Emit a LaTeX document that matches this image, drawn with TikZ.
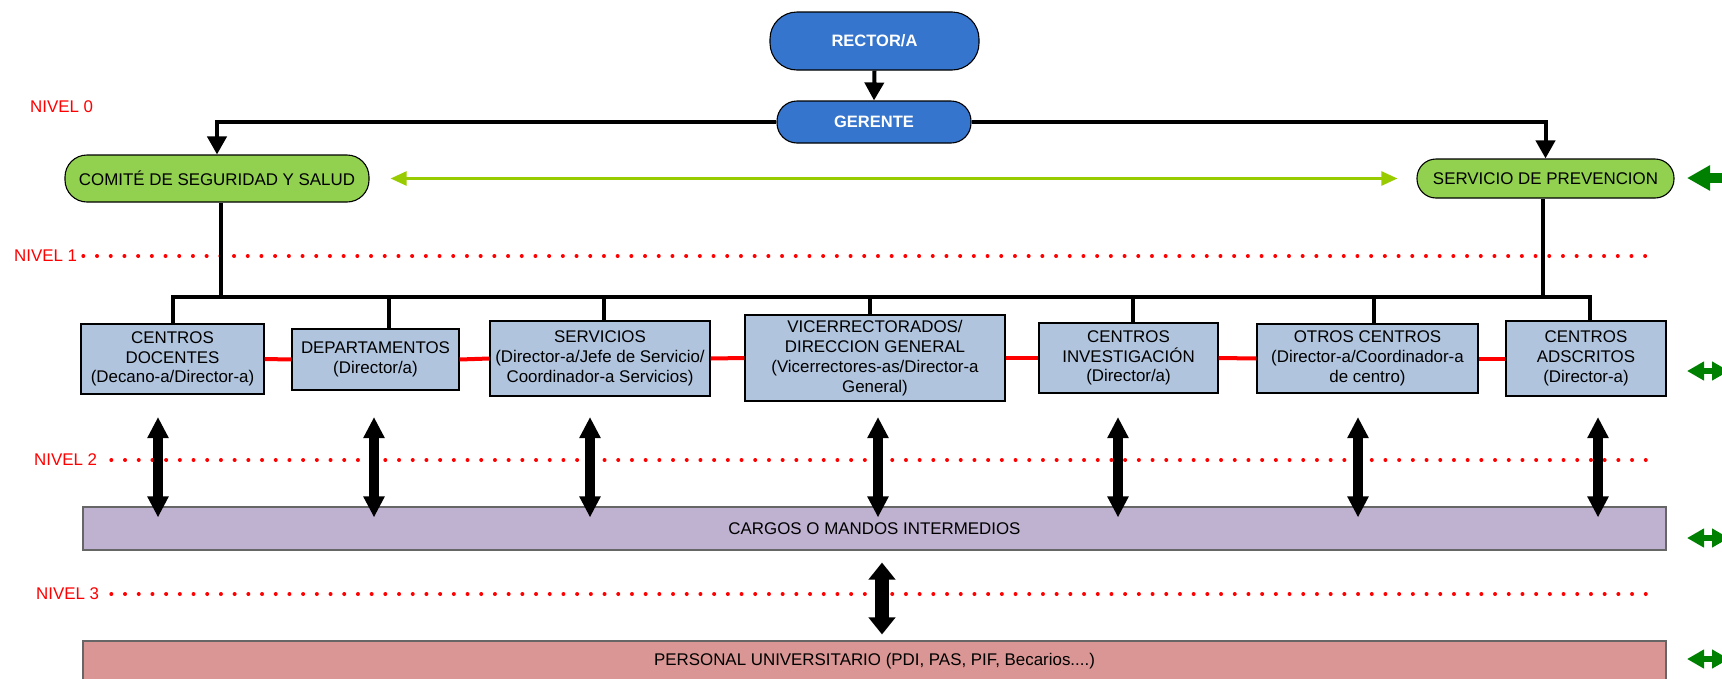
\documentclass[tikz,border=0pt]{standalone}
\usepackage{fontspec}
\setmainfont{Liberation Sans}
\usetikzlibrary{arrows.meta}
\definecolor{rectorBlue}{RGB}{54,117,205}
\definecolor{leafGreen}{RGB}{146,208,80}
\definecolor{limeGreen}{RGB}{153,204,0}
\definecolor{darkGreen}{RGB}{0,128,0}
\definecolor{unitBlue}{RGB}{176,196,222}
\definecolor{cargoLilac}{RGB}{191,177,208}
\definecolor{staffRose}{RGB}{217,150,148}

\begin{document}
\begin{tikzpicture}
[x=1pt,y=-1pt,
  every node/.style={inner sep=0pt,font=\fontsize{16.9}{19.8}\selectfont},%
  roundNode/.style={draw,line width=1.1pt},
  headNode/.style={roundNode,fill=rectorBlue,text=white,
    font=\fontsize{16.5}{19.5}\selectfont\bfseries},
  greenNode/.style={roundNode,fill=leafGreen},
  boxNode/.style={draw,line width=1.1pt,fill=unitBlue,align=center},
  barNode/.style={draw=black!60,line width=1.1pt,minimum width=1583pt},
  levelText/.style={red,anchor=west},
  levelDots/.style={red,line width=4pt,line cap=round,
    dash pattern=on 0pt off 13.7pt},
  lineConnect/.style={line width=4pt},
  arrowDown/.style={lineConnect,-{Triangle[width=19pt,length=18pt]}},
  lineRed/.style={red,line width=4pt},
  lineGreen/.style={limeGreen,line width=2.5pt,
    {Triangle[width=14pt,length=16pt]}-{Triangle[width=14pt,length=16pt]}},
  arrowUpDown/.style={line width=9.5pt,
    {Triangle[width=20pt,length=21pt]}-{Triangle[width=20pt,length=21pt]}},
  arrowUpDownBig/.style={line width=14pt,
    {Triangle[width=26pt,length=17pt]}-{Triangle[width=26pt,length=17pt]}},
  arrowSide/.style={darkGreen,line width=6pt,
    {Triangle[width=18pt,length=17pt]}-{Triangle[width=18pt,length=17pt]}}]
\useasboundingbox (0,0) rectangle (1722,678);
\clip (0,0) rectangle (1722,678);

% levels
\node[levelText] (nivel0) at (30,107) {NIVEL 0};
\node[levelText] (nivel1) at (14,256) {NIVEL 1};
\node[levelText] (nivel2) at (34,460) {NIVEL 2};
\node[levelText] (nivel3) at (36,594) {NIVEL 3};
\draw[levelDots] ([xshift=6pt]nivel1.east) -- (1654,256);
\draw[levelDots] ([xshift=14pt]nivel2.east) -- (1657,460);
\draw[levelDots] ([xshift=12pt]nivel3.east) -- (1657,594);

% top
\node[headNode,minimum width=209pt,minimum height=58pt,rounded corners=27pt]
  (rector) at (874.5,41) {RECTOR/A};
\node[headNode,minimum width=194pt,minimum height=42pt,rounded corners=20pt]
  (gerente) at (874,122) {GERENTE};
\node[greenNode,minimum width=304pt,minimum height=47pt,rounded corners=22pt]
  (comite) at (217,178.5) {COMITÉ DE SEGURIDAD Y SALUD};
\node[greenNode,minimum width=257pt,minimum height=39pt,rounded corners=19pt]
  (servicio) at (1545.5,178.5) {SERVICIO DE PREVENCION};

\draw[arrowDown] (rector.south) -- (gerente.north);
\draw[arrowDown] (gerente.west) -| (comite.north);
\draw[arrowDown] (gerente.east) -| (servicio.north);
\draw[lineGreen,shorten <=21pt,shorten >=19pt] (comite.east) -- (servicio.west);

% units
\node[boxNode,minimum width=183pt,minimum height=70pt] (cd) at (172.5,359)
  {CENTROS\\DOCENTES\\(Decano-a/Director-a)};
\node[boxNode,minimum width=167pt,minimum height=61pt] (dept) at (375.5,359.5)
  {DEPARTAMENTOS\\(Director/a)};
\node[boxNode,minimum width=220pt,minimum height=75pt] (serv) at (600,358.5)
  {SERVICIOS\\(Director-a/Jefe de Servicio/\\Coordinador-a Servicios)};
\node[boxNode,minimum width=260pt,minimum height=86pt] (vice) at (875,358)
  {VICERRECTORADOS/\\DIRECCION GENERAL\\(Vicerrectores-as/Director-a\\General)};
\node[boxNode,minimum width=179pt,minimum height=70pt] (ci) at (1128.5,358)
  {CENTROS\\INVESTIGACIÓN\\(Director/a)};
\node[boxNode,minimum width=221pt,minimum height=69pt] (otros) at (1367.5,358.5)
  {OTROS CENTROS\\(Director-a/Coordinador-a\\de centro)};
\node[boxNode,minimum width=160pt,minimum height=75pt] (adsc) at (1586,358.5)
  {CENTROS\\ADSCRITOS\\(Director-a)};

\coordinate (busLeft) at (171,297);
\coordinate (busRight) at (1592,297);
\draw[lineConnect] (busLeft) -- (busRight);
\draw[lineConnect] ([xshift=4pt]comite.south) -- ([xshift=4pt]comite.south |- busLeft);
\draw[lineConnect] ([xshift=-3pt]servicio.south) -- ([xshift=-3pt]servicio.south |- busLeft);
\path
\foreach \unitNode/\xPos in {
  cd/173, dept/389, serv/604, vice/870, ci/1133, otros/1374, adsc/1590}
{
  (\xPos,297) edge[lineConnect] (\xPos,0 |- \unitNode.north)
};
\path
\foreach \startNode/\endNode in {
  cd/dept, dept/serv, serv/vice, vice/ci, ci/otros, otros/adsc}
{
  (\startNode.east) edge[lineRed] (\endNode.west)
};

% bars
\node[barNode,fill=cargoLilac,minimum height=43pt] (cargos) at (874.5,528.5)
  {CARGOS O MANDOS INTERMEDIOS};
\node[barNode,fill=staffRose,minimum height=40pt] (personal) at (874.5,661)
  {PERSONAL UNIVERSITARIO (PDI, PAS, PIF, Becarios....)};

\coordinate (levelTwoTop) at (0,417);
\path
\foreach \xPos in {158, 374, 590, 878, 1118, 1358, 1598}
{
  (\xPos,0 |- levelTwoTop) edge[arrowUpDown,shorten >=-11pt] (\xPos,0 |- cargos.north)
};
\draw[arrowUpDownBig,shorten <=12pt,shorten >=6pt]
  (882,0 |- cargos.south) -- (882,0 |- personal.north);

% side arrows
\draw[darkGreen,line width=10pt,-{Triangle[width=24pt,length=23pt]}]
  (1760,178) -- (1687,178);
\foreach \yPos in {371, 538, 659}
  \draw[arrowSide] (1687,\yPos) -- (1729,\yPos);
\end{tikzpicture}
\end{document}
